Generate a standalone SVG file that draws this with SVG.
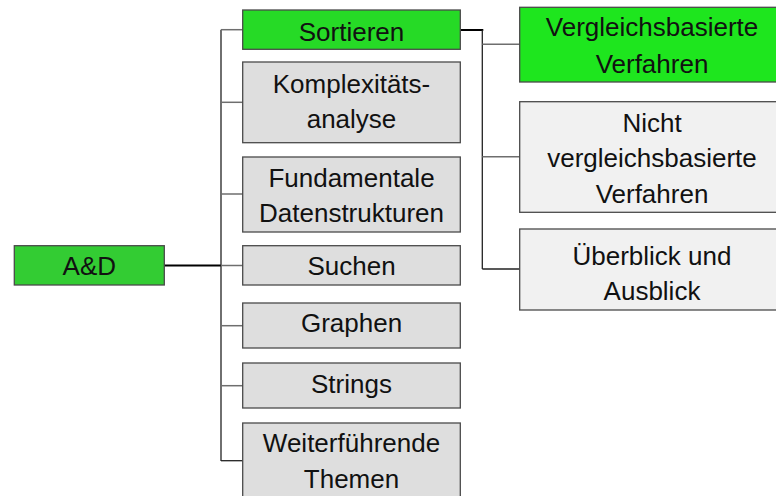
<svg xmlns="http://www.w3.org/2000/svg" width="776" height="496" viewBox="0 0 776 496">
<style>
  text { font-family: "Liberation Sans", Arial, sans-serif; font-size: 26px; fill: #111; text-anchor: middle; }
  .box { stroke: #4a4a4a; stroke-width: 1.3; }
  .g1 { fill: #dedede; }
  .g2 { fill: #f1f1f1; }
  .root { fill: #33cc33; }
  .sel { fill: #26da26; }
  .sel2 { fill: #1ee61e; }
  .trunk { stroke: #222; stroke-width: 1.3; fill: none; }
  .main { stroke: #000; stroke-width: 2; fill: none; }
  .branch { stroke: #6e6e6e; stroke-width: 1.5; fill: none; }
</style>
<rect width="776" height="496" fill="#fff"/>
<g id="connectors">
  <line class="main" x1="164" y1="265.5" x2="221" y2="265.5"/>
  <line class="trunk" x1="221" y1="29.7" x2="221" y2="461"/>
  <line class="branch" x1="221" y1="29.7" x2="243" y2="29.7"/>
  <line class="branch" x1="221" y1="102.3" x2="243" y2="102.3"/>
  <line class="branch" x1="221" y1="194" x2="243" y2="194"/>
  <line class="branch" x1="221" y1="265.5" x2="243" y2="265.5"/>
  <line class="branch" x1="221" y1="325.7" x2="243" y2="325.7"/>
  <line class="branch" x1="221" y1="385.7" x2="243" y2="385.7"/>
  <line class="trunk" x1="221" y1="460.7" x2="243" y2="460.7"/>
  <polyline class="main" points="460,30 482.3,30 482.3,31"/>
  <line class="trunk" x1="482.3" y1="30" x2="482.3" y2="269"/>
  <line class="branch" x1="482.3" y1="44.3" x2="520" y2="44.3"/>
  <line class="branch" x1="482.3" y1="156.7" x2="520" y2="156.7"/>
  <line class="trunk" x1="482.3" y1="269" x2="520" y2="269"/>
</g>
<g id="n-ad">
  <rect class="box root" x="14.3" y="245.7" width="150" height="39.3"/>
  <text x="89.3" y="275">A&amp;D</text>
</g>
<g id="n-sortieren">
  <rect class="box sel" x="242.7" y="10" width="217.6" height="39.3"/>
  <text x="351.5" y="40.7">Sortieren</text>
</g>
<g id="n-komplex">
  <rect class="box g1" x="242.7" y="62" width="217.6" height="80.7"/>
  <text x="351.5" y="92.7">Komplexitäts-</text>
  <text x="351.5" y="128.3">analyse</text>
</g>
<g id="n-fund">
  <rect class="box g1" x="242.7" y="157" width="217.6" height="75"/>
  <text x="351.5" y="186.7">Fundamentale</text>
  <text x="351.5" y="222.3">Datenstrukturen</text>
</g>
<g id="n-suchen">
  <rect class="box g1" x="242.7" y="245.7" width="217.6" height="39.3"/>
  <text x="351.5" y="275">Suchen</text>
</g>
<g id="n-graphen">
  <rect class="box g1" x="242.7" y="303" width="217.6" height="45"/>
  <text x="351.5" y="332.3">Graphen</text>
</g>
<g id="n-strings">
  <rect class="box g1" x="242.7" y="363" width="217.6" height="45"/>
  <text x="351.5" y="392.7">Strings</text>
</g>
<g id="n-weiter">
  <rect class="box g1" x="242.7" y="423" width="217.6" height="80"/>
  <text x="351.5" y="452.3">Weiterführende</text>
  <text x="351.5" y="488.3">Themen</text>
</g>
<g id="n-vergl">
  <rect class="box sel2" x="519.7" y="7.3" width="270" height="74.7"/>
  <text x="652" y="36">Vergleichsbasierte</text>
  <text x="652" y="72.7">Verfahren</text>
</g>
<g id="n-nicht">
  <rect class="box g2" x="519.7" y="101.7" width="270" height="110.6"/>
  <text x="652" y="131.7">Nicht</text>
  <text x="652" y="166.7">vergleichsbasierte</text>
  <text x="652" y="202.7">Verfahren</text>
</g>
<g id="n-ueber">
  <rect class="box g2" x="519.7" y="229" width="270" height="81"/>
  <text x="652" y="265">Überblick und</text>
  <text x="652" y="300">Ausblick</text>
</g>
</svg>
